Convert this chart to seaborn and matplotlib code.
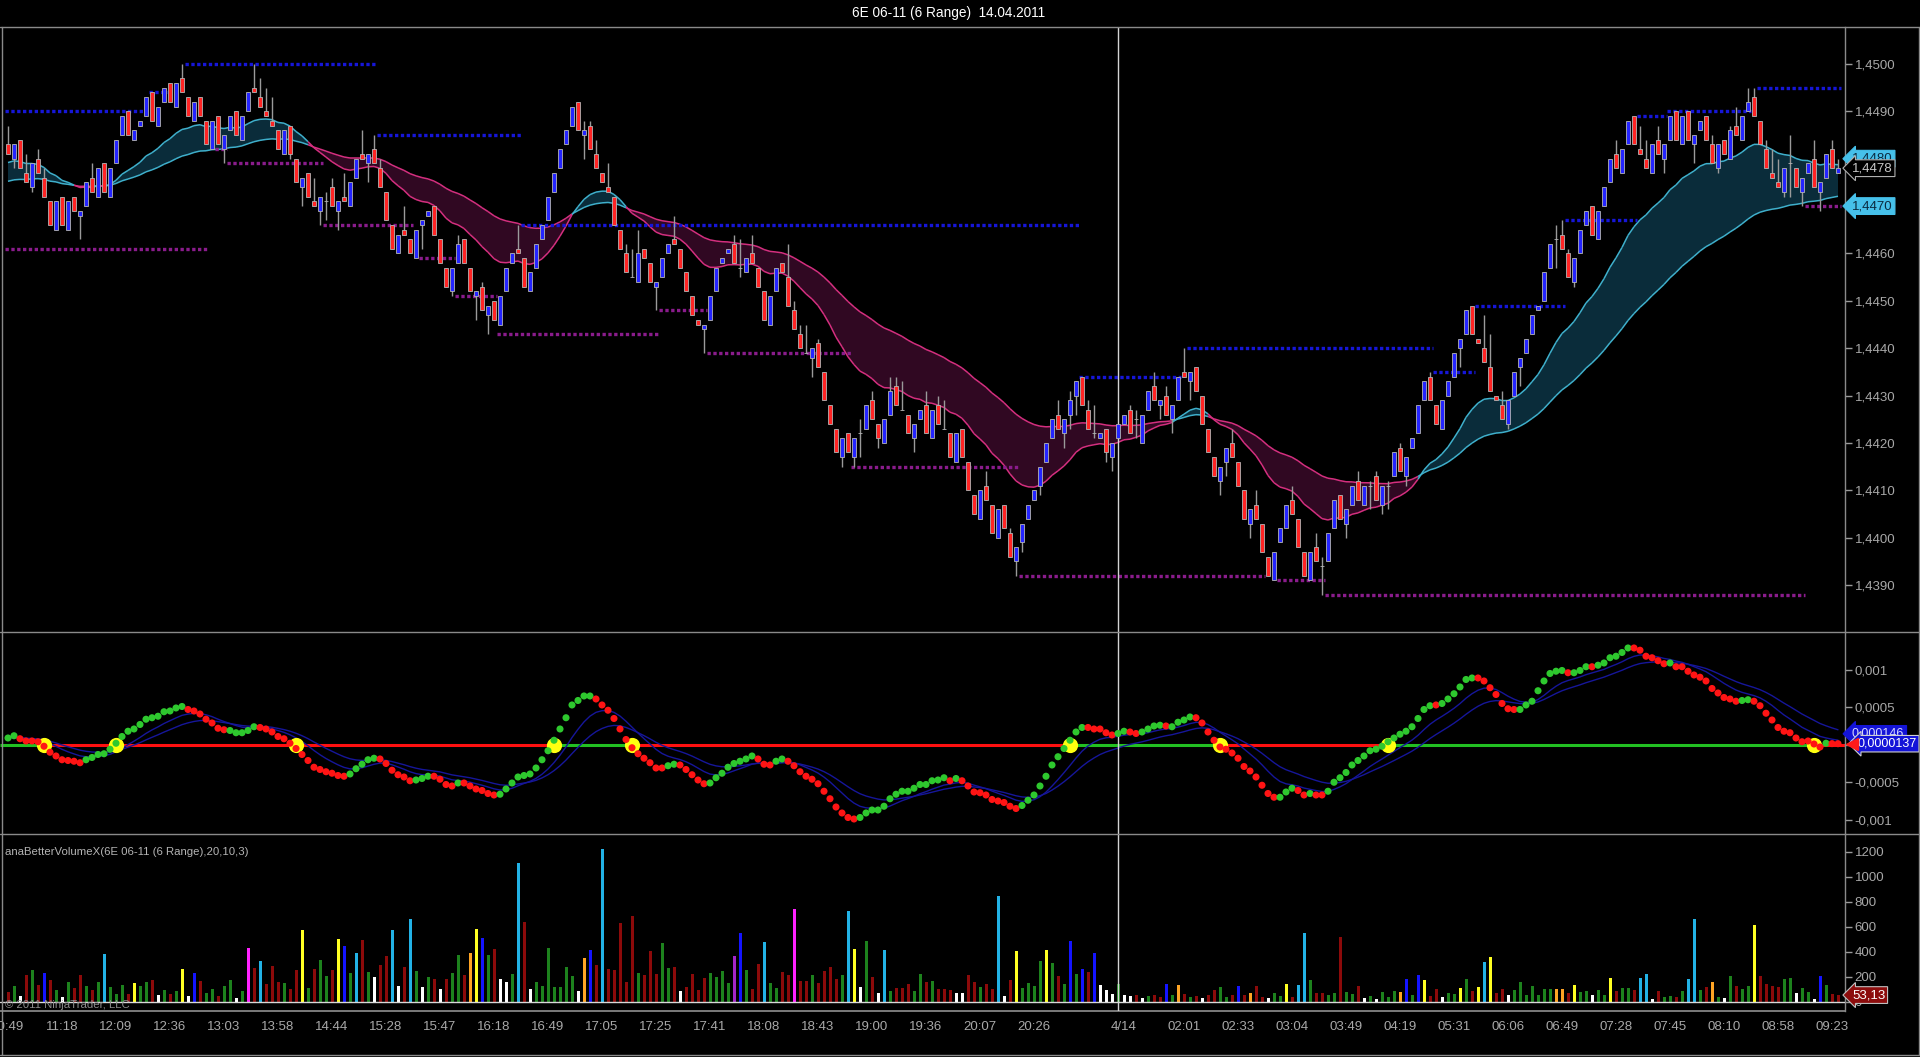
import numpy as np
import pandas as pd
import matplotlib
matplotlib.use("Agg")
import matplotlib.pyplot as plt
import seaborn as sns
from matplotlib.collections import LineCollection
from matplotlib.lines import Line2D

# ---------------- DATA (prices in pips above 1.4400) ----------------
TITLE = "6E 06-11 (6 Range)  14.04.2011"
BASE = 1.4400
PIP = 0.0001

OPEN = [83,80,84,77,74,80,76,71,65,72, 65,72,68,70,76,72,79,72,79,85,
        90,84,87,89,94,87,92,96,91,97, 93,88,93,88,82,89,82,86,90,84,
        90,95,93,90,88,86,81,87,80,74, 77,71,69,71,74,69,72,70,76,81,
        79,82,78,73,66,60,65,63,59,66, 68,70,63,57,52,58,63,57,51,53,
        47,50,45,52,58,61,59,52,57,63, 67,73,78,83,87,92,85,87,81,77,
        74,72,65,60,55,54,61,58,53,55, 60,63,61,56,51,46,44,46,52,58,
        60,62,57,56,60,57,52,45,52,58, 55,48,43,39,38,41,35,28,23,17,
        22,17,22,23,29,24,20,26,32,27, 26,21,25,28,21,28,23,22,16,23,
        16,9,4,11,7,0,7,1,-5,-1, 4,8,11,16,21,26,22,26,30,34,
        27,22,21,23,17,21,24,27,25,20, 27,32,28,30,25,29,35,33,36,30,
        23,17,12,16,20,16,10,3,7,3, -4,-9,-1,2,8,4,-3,-9,-2,-6,
        -5,2,9,3,7,12,7,11,13,7, 11,13,19,13,19,22,29,34,28,23,
        30,34,40,43,49,42,40,36,30,28, 24,30,36,39,43,48,50,57,63,64,
        60,54,60,66,70,63,70,75,81,77, 83,89,82,80,77,84,80,84,90,83,
        90,83,86,89,83,78,84,80,87,84, 90,93,88,82,77,75,73,79,78,73,
        77,80,73,76,82,77]
CLOSE = [81,83,78,75,79,77,72,66,71,66, 71,69,69,75,73,78,73,78,84,89,
         85,86,88,93,88,91,95,92,96,94, 89,92,89,83,88,83,85,89,85,89,
         94,94,91,89,87,82,86,81,75,76, 72,70,72,71,70,71,71,75,80,80,
         81,79,74,67,61,64,64,60,65,67, 69,64,58,53,57,62,58,52,52,48,
         49,46,51,57,60,60,53,56,62,66, 72,77,82,86,91,86,86,82,78,75,
         73,66,61,56,55,60,59,54,54,59, 62,62,57,52,47,45,45,51,57,59,
         61,58,57,59,58,53,46,51,57,56, 49,44,40,39,40,36,29,24,18,21,
         18,21,22,28,25,21,25,31,28,27, 22,24,27,22,27,24,23,17,22,17,
         10,5,10,8,1,6,2,-4,-2,3, 7,10,15,20,25,23,25,29,33,28,
         23,22,22,18,20,24,26,22,25,26, 31,29,29,26,28,34,34,35,31,24,
         18,13,15,19,17,11,4,6,4,-3, -8,-3,2,7,5,-2,-8,-3,-5,-6,
         1,8,4,6,11,8,11,11,8,11, 11,18,14,17,21,28,33,29,24,29,
         33,39,42,48,43,41,37,31,29,25, 29,35,38,42,47,49,56,62,63,61,
         55,59,65,69,64,69,74,80,78,82, 88,83,81,78,83,81,83,89,84,89,
         84,85,88,84,79,83,81,86,85,89, 92,89,83,78,76,74,78,79,74,76,
         79,74,75,81,78,78]
WICK_HIGH = {0:87, 3:81, 5:82, 6:78, 14:79, 29:100, 41:100, 42:97, 43:95, 44:93,
             51:76, 53:73, 54:76, 56:77, 59:86, 61:85, 62:80, 66:70, 75:64, 79:54,
             85:66, 95:92, 96:88, 97:88, 98:84, 100:79, 103:62, 104:61, 105:65, 111:68,
             121:64, 122:63, 124:64, 130:62, 131:50, 132:45, 133:45, 135:42, 142:25,
             144:31, 147:34, 148:34, 149:33, 153:31, 155:30, 156:29, 163:14, 167:2,
             175:29, 177:31, 180:29, 181:28, 187:28, 188:27, 191:35, 193:32, 196:40,
             204:23, 208:10, 214:11, 218:1, 219:-4, 225:14, 227:12, 228:14, 230:12,
             232:20, 237:35, 246:47, 247:43, 249:31, 258:66, 259:67, 260:61, 268:84,
             272:87, 273:84, 275:87, 284:85, 287:87, 288:91, 290:95, 291:95, 293:84,
             294:82, 295:80, 297:85, 301:84, 304:84, 305:80}
WICK_LOW = {1:78, 4:73, 12:63, 36:79, 47:80, 49:70, 52:66, 53:67, 55:65, 60:75,
            69:61, 74:51, 78:46, 80:43, 96:80, 104:55, 108:48, 116:39, 122:55,
            133:39, 134:34, 139:15, 141:15, 142:17, 145:19, 149:27, 151:18, 156:23,
            168:-8, 169:-3, 170:4, 172:9, 176:19, 177:23, 178:26, 181:21, 183:16,
            184:14, 188:21, 192:25, 194:22, 197:29, 202:9, 203:13, 207:0, 219:-12,
            223:0, 227:6, 229:5, 230:6, 233:11, 242:36, 250:23, 252:32, 258:57,
            261:53, 276:77, 281:79, 285:77, 296:72, 297:72, 299:70, 302:69}

# cloud start values read at the first bar (pips)
FAST_SEED, SLOW_SEED = 79, 75
FAST_SPAN, SLOW_SPAN = 20, 50

# resistance (blue) / support (purple) dotted levels: (pips, first bar, last bar)
RES_LEVELS = [(90,0,22),(94,24,26),(100,30,61),(85,62,85),(66,86,178),(34,179,195),
              (40,197,237),(35,238,244),(49,245,259),(67,260,271),(89,272,276),
              (90,277,290),(95,292,305)]
SUP_LEVELS = [(61,0,33),(82,35,36),(79,37,52),(66,53,67),(59,69,74),(51,75,81),
              (43,82,108),(48,109,116),(39,117,140),(15,141,168),(-8,169,209),
              (-9,212,219),(-12,220,299),(70,300,305)]

# oscillator values (units of 0.0001)
OSC = [0.9,1.2,0.8,0.5,0.5,0.4,-0.2,-1.0,-1.5,-2.0, -2.1,-2.2,-2.4,-2.0,-1.7,-1.3,-1.2,-0.6,0.2,1.1,
       1.8,2.1,2.7,3.4,3.6,3.8,4.4,4.5,4.9,5.1, 4.7,4.5,4.1,3.4,2.9,2.2,2.0,1.9,1.6,1.6,
       1.9,2.4,2.3,2.1,1.7,1.1,0.8,0.2,-0.5,-1.3, -2.1,-3.0,-3.3,-3.6,-3.8,-4.1,-4.2,-3.9,-3.2,-2.6,
       -2.0,-1.8,-1.9,-2.5,-3.4,-4.0,-4.3,-4.8,-4.7,-4.5, -4.2,-4.2,-4.6,-5.3,-5.5,-5.1,-5.1,-5.5,-5.9,-6.1,
       -6.5,-6.7,-6.6,-5.9,-5.1,-4.3,-4.1,-3.9,-3.1,-2.0, -0.8,0.6,2.1,3.6,5.3,5.9,6.5,6.5,6.1,5.3,
       4.6,3.5,2.1,0.7,-0.4,-1.2,-1.8,-2.4,-3.1,-3.1, -2.8,-2.6,-2.7,-3.3,-4.0,-4.7,-5.2,-5.1,-4.4,-3.8,
       -3.0,-2.5,-2.2,-1.9,-1.5,-1.9,-2.6,-2.7,-2.2,-1.9, -2.2,-2.8,-3.6,-4.2,-4.6,-5.2,-6.2,-7.2,-8.3,-9.1,
       -9.7,-9.9,-9.7,-9.1,-8.7,-8.7,-8.2,-7.2,-6.6,-6.2, -6.2,-5.8,-5.3,-5.3,-4.8,-4.7,-4.4,-4.8,-4.5,-4.8,
       -5.5,-6.3,-6.4,-6.7,-7.3,-7.5,-7.7,-8.2,-8.5,-8.1, -7.4,-6.7,-5.5,-4.2,-2.7,-1.6,-0.5,0.6,1.7,2.3,
       2.3,2.1,2.1,1.6,1.3,1.5,1.8,1.7,1.5,1.7, 2.1,2.5,2.6,2.5,2.4,3.0,3.3,3.7,3.6,2.9,
       1.7,0.6,-0.3,-0.6,-1.1,-1.8,-2.9,-3.5,-4.3,-5.4, -6.5,-7.0,-7.0,-6.3,-5.8,-6.1,-6.7,-6.5,-6.7,-6.7,
       -6.2,-5.0,-4.4,-3.7,-2.7,-2.1,-1.5,-0.8,-0.6,-0.2, 0.4,0.9,1.4,1.8,2.4,3.5,4.7,5.2,5.3,5.5,
       6.1,6.8,7.7,8.7,8.9,8.9,8.5,7.6,6.7,5.5, 4.8,4.7,4.7,5.3,5.8,7.2,8.5,9.5,9.8,9.9,
       9.6,9.6,9.9,10.4,10.4,10.6,10.9,11.6,11.8,12.3, 12.9,12.9,12.6,11.8,11.6,11.2,10.8,10.9,10.4,10.4,
       9.8,9.3,9.0,8.5,7.5,6.9,6.3,6.1,5.8,5.9, 6.0,5.8,5.2,4.2,3.3,2.3,1.8,1.6,0.9,0.4,
       0.5,0.1,-0.3,0.2,0.15,0.14]
OSC_COLOR_RUNS = [('g',2),('r',11),('g',17),('r',7),('g',5),('r',15),('g',5),('r',6),('g',3),
                  ('r',4),('g',1),('r',6),('g',16),('r',12),('g',2),('r',5),('g',8),('r',3),
                  ('g',2),('r',12),('g',15),('r',1),('g',1),('r',10),('g',11),('r',5),('g',2),
                  ('r',2),('g',4),('r',1),('g',4),('r',14),('g',3),('r',2),('g',1),('r',2),
                  ('g',18),('r',1),('g',6),('r',7),('g',8),('r',1),('g',3),('r',1),('g',6),
                  ('r',6),('g',1),('r',11),('g',2),('r',12),('g',1),('r',2)]
CROSS_BARS = [6, 18, 48, 91, 104, 177, 202, 230, 301]
ZERO_FLIPS = [6, 91, 104, 177, 202, 230, 301]   # zero line starts green and alternates
SIGNAL_SPANS = (8, 16)

# volume
VOL = [77,125,45,216,251,136,232,176,91,37, 157,109,216,125,91,157,381,117,64,136,
       64,149,125,157,171,53,91,64,83,259, 43,229,165,72,99,45,125,171,29,83,
       429,269,323,144,285,157,152,99,251,571, 109,259,331,205,251,499,445,232,389,491,
       237,197,296,365,571,125,277,659,243,117, 197,184,99,184,232,371,216,389,579,509,
       376,419,179,157,224,1109,637,99,157,125, 429,117,117,277,205,83,349,411,291,1219,
       259,251,632,157,685,229,211,405,219,469, 269,277,85,117,224,91,189,229,197,243,
       152,365,549,251,99,301,477,149,109,237, 216,744,165,165,211,152,243,277,184,211,
       725,419,117,483,197,69,411,85,109,109, 139,85,219,157,163,99,99,91,69,69,
       211,157,117,144,99,843,45,171,403,109, 149,125,323,411,309,205,139,483,224,264,
       237,389,136,96,64,144,56,45,56,32, 45,56,37,139,56,136,64,37,43,32,
       51,91,117,37,51,123,51,72,125,37, 29,72,45,144,37,136,549,171,72,72,
       51,72,517,77,64,125,29,45,24,77, 37,85,77,179,56,211,171,45,104,37,
       72,64,109,179,85,117,317,357,72,99, 51,91,157,56,125,56,99,99,99,99,
       72,131,77,83,51,91,51,189,85,109, 109,91,189,219,19,83,37,43,37,85,
       179,659,91,117,157,37,29,205,125,99, 125,611,205,144,125,117,179,189,69,109,
       77,19,205,131,64,53]
VOL_CAT = ("RGWRGRBRGW" "GRRGRGCGGG" "RYGGRWGRGY" "WBRGGRGGWG" "MRCRRRGRRY"
           "GRGGRYBGCR" "GWRRCWRCGW" "GRWRGGROYB" "GRWWGCRWGG" "GGGGGWOBRC"
           "RRRRRGRRRG" "GRWRRRRGGG" "GPBGRRCGGR" "RMRRGRRRRG" "CYWGRWCGRR"
           "RGGRGRRRWW" "RRGRRCWRYG" "GGGYGRGBGB" "RBWWWGWWRW" "GRRBGORGRW"
           "RRGGRBRORR" "WGGYRCCGRR" "GGRGGRWGWG" "GGOBGBYRRW" "GGYGRYCYRR"
           "WGGGGGGGOO" "RYGGWGGYRG" "GRCCWRGGRG" "CCGROGWGRG" "GYRRRRGGWG"
           "GWBGRR")

TICK_BARS = [0,9,18,27,36,45,54,63,72,81,90,99,108,117,126,135,144,153,162,171,180,
             186,196,205,214,223,232,241,250,259,268,277,286,295,304]
TICK_LABELS = ["10:49","11:18","12:09","12:36","13:03","13:58","14:44","15:28","15:47",
               "16:18","16:49","17:05","17:25","17:41","18:08","18:43","19:00","19:36",
               "20:07","20:26","","4/14","02:01","02:33","03:04","03:49","04:19","05:31",
               "06:06","06:49","07:28","07:45","08:10","08:58","09:23"]
DATE_BREAK_BAR = 185

PRICE_TICKS = [1.4390,1.4400,1.4410,1.4420,1.4430,1.4440,1.4450,1.4460,1.4470,1.4480,1.4490,1.4500]
OSC_TICKS = [-0.001,-0.0005,0.0,0.0005,0.001]
OSC_TICK_LABELS = ["-0,001","-0,0005","0","0,0005","0,001"]
VOL_TICKS = [0,200,400,600,800,1000,1200]

LAST_PRICE, LAST_PRICE_TXT = 1.4478, "1,4478"
SLOW_LAST, SLOW_LAST_TXT = 1.4470, "1,4470"
FAST_LAST, FAST_LAST_TXT = 1.4480, "1,4480"
SIG_LAST, SIG_LAST_TXT = 0.000146, "0,000146"
OSC_LAST, OSC_LAST_TXT = 0.0000137, "0,0000137"
VOL_LAST, VOL_LAST_TXT = 53.13, "53,13"
VOL_TITLE = "anaBetterVolumeX(6E 06-11 (6 Range),20,10,3)"
COPYRIGHT = "\u00a9 2011 NinjaTrader, LLC"

# ---------------- STYLE ----------------
sns.set_theme(style="dark")
plt.rcParams['font.family'] = ['Liberation Sans', 'DejaVu Sans']
plt.rcParams.update({'figure.facecolor': 'black', 'axes.facecolor': 'black',
                     'savefig.facecolor': 'black', 'axes.grid': False})

GREY = '#9a9a9a'
LBL = '#a8a8a8'
TEAL_LINE, TEAL_FILL = '#3fb0cc', '#0a2c3a'
PINK_LINE, PINK_FILL = '#d42f7f', '#300822'
VOL_COLORS = {'G': '#1d821d', 'R': '#8c0a0a', 'C': '#22b2e6', 'Y': '#ffff22', 'W': '#ffffff',
              'B': '#1414ff', 'M': '#ff22ff', 'O': '#ffa424', 'P': '#a526c8'}

W, H = 1920, 1057
fig = plt.figure(figsize=(W / 100, H / 100), dpi=100)
AX_RIGHT = 1845


def rect(top, bottom):
    return [0, 1 - bottom / H, AX_RIGHT / W, (bottom - top) / H]


ax_p = fig.add_axes(rect(27, 632))
ax_o = fig.add_axes(rect(632, 834))
ax_v = fig.add_axes(rect(834, 1011))

n = len(CLOSE)
x = np.arange(n)
XL = (-8 / 6, (AX_RIGHT - 8) / 6)

# ---------------- PRICE PANEL ----------------
o = BASE + np.array(OPEN, float) * PIP
c = BASE + np.array(CLOSE, float) * PIP
hi = np.maximum(o, c)
lo = np.minimum(o, c)
for k, v in WICK_HIGH.items():
    hi[k] = max(hi[k], BASE + v * PIP)
for k, v in WICK_LOW.items():
    lo[k] = min(lo[k], BASE + v * PIP)


def ema(vals, span, seed):
    a = 2.0 / (span + 1)
    e = seed
    out = []
    for v in vals:
        e = e + a * (v - e)
        out.append(e)
    return np.array(out)


fast = BASE + ema(CLOSE, FAST_SPAN, FAST_SEED) * PIP
slow = BASE + ema(CLOSE, SLOW_SPAN, SLOW_SEED) * PIP
bull = fast >= slow
ax_p.fill_between(x, fast, slow, where=bull, interpolate=True, color=TEAL_FILL, lw=0, zorder=1)
ax_p.fill_between(x, fast, slow, where=~bull, interpolate=True, color=PINK_FILL, lw=0, zorder=1)
seg_cols = [TEAL_LINE if (bull[i] and bull[i + 1]) or (bull[i] != bull[i + 1] and fast[i + 1] >= slow[i + 1]) else PINK_LINE
            for i in range(n - 1)]
for line in (fast, slow):
    pts = np.column_stack([x, line])
    segs = np.stack([pts[:-1], pts[1:]], axis=1)
    ax_p.add_collection(LineCollection(segs, colors=seg_cols, linewidths=1.1, zorder=2))

for lvl, s, e in RES_LEVELS:
    ax_p.hlines(BASE + lvl * PIP, s - 0.5, e + 0.5, colors='#1616d8', linewidth=2.4,
                linestyles=(0, (1, 0.75)), zorder=3)
for lvl, s, e in SUP_LEVELS:
    ax_p.hlines(BASE + lvl * PIP, s - 0.5, e + 0.5, colors='#8a1c8c', linewidth=2.4,
                linestyles=(0, (1, 0.75)), zorder=3)

ax_p.vlines(x, lo, hi, color=GREY, linewidth=1, zorder=4)
body_cols = np.where(c > o, '#2424ff', np.where(c < o, '#ff2424', '#9a9a9a'))
ax_p.bar(x, np.abs(c - o), bottom=np.minimum(o, c), width=0.66, color=body_cols,
         edgecolor='#b4b4b4', linewidth=0.6, zorder=5)
ax_p.set_ylim(BASE - 19.9 * PIP, BASE + 107.8 * PIP)
ax_p.set_yticks(PRICE_TICKS)
ax_p.set_yticklabels([f"{t:.4f}".replace('.', ',') for t in PRICE_TICKS])

# ---------------- OSCILLATOR PANEL ----------------
osc = np.array(OSC) * 1e-4
dcol = "".join(ch * cnt for ch, cnt in OSC_COLOR_RUNS)
df_o = pd.DataFrame({'bar': x, 'osc': osc, 'dir': list(dcol)})
flips = [XL[0]] + ZERO_FLIPS + [XL[1]]
for i in range(len(flips) - 1):
    ax_o.hlines(0, flips[i], flips[i + 1], colors='#22c022' if i % 2 == 0 else '#ff1010',
                linewidth=2.2, zorder=2)
sig1 = pd.Series(osc).ewm(span=SIGNAL_SPANS[0], adjust=False).mean()
sig2 = pd.Series(osc).ewm(span=SIGNAL_SPANS[1], adjust=False).mean()
sns.lineplot(x=x, y=sig1.values, color='#16169a', linewidth=1.0, ax=ax_o, zorder=3)
sns.lineplot(x=x, y=sig2.values, color='#16169a', linewidth=1.0, ax=ax_o, zorder=3)
ax_o.scatter(CROSS_BARS, np.zeros(len(CROSS_BARS)), s=120, color='#ffff10', lw=0, zorder=4)
sns.scatterplot(data=df_o, x='bar', y='osc', hue='dir', palette={'g': '#2ec82e', 'r': '#ff1414'},
                s=26, linewidth=0, legend=False, ax=ax_o, zorder=5)
ax_o.set_ylim(-0.00119, 0.001503)
ax_o.set_yticks(OSC_TICKS)
ax_o.set_yticklabels(OSC_TICK_LABELS)

# ---------------- VOLUME PANEL ----------------
df_v = pd.DataFrame({'bar': x, 'vol': VOL, 'cat': list(VOL_CAT)})
sns.barplot(data=df_v, x='bar', y='vol', hue='cat', palette=VOL_COLORS, native_scale=True,
            width=0.5, dodge=False, legend=False, errorbar=None, saturation=1,
            linewidth=0, ax=ax_v)
ax_v.axhline(0, color='#d8d8d8', lw=1, zorder=3)
ax_v.set_ylim(-74.4, 1341.6)
ax_v.set_yticks(VOL_TICKS)
ax_v.set_yticklabels([str(t) for t in VOL_TICKS])
ax_v.set_xticks(TICK_BARS)
ax_v.set_xticklabels(TICK_LABELS)
ax_v.tick_params(axis='x', colors=LBL, labelsize=9.5, length=5, width=1, direction='out', pad=2)
for lab in ax_v.get_xticklabels():
    lab.set_color(LBL)

# ---------------- COMMON AXIS STYLE ----------------
for ax in (ax_p, ax_o, ax_v):
    ax.set_xlim(*XL)
    ax.set_xlabel('')
    ax.set_ylabel('')
    ax.set_facecolor('black')
    ax.yaxis.tick_right()
    ax.tick_params(axis='y', colors=GREY, labelcolor=LBL, labelsize=9.5, length=5,
                   width=1, direction='out', pad=2)
    for side in ('top', 'left', 'bottom'):
        ax.spines[side].set_visible(False)
    ax.spines['right'].set_color('#8a8a8a')
    ax.spines['right'].set_linewidth(1)
    ax.axvline(DATE_BREAK_BAR, color='#d4d4d4', lw=1, zorder=3)
    ax.grid(False)
for ax in (ax_p, ax_o):
    ax.set_xticks([])
ax_v.spines['bottom'].set_visible(True)
ax_v.spines['bottom'].set_color('#8a8a8a')
ax_v.tick_params(axis='x', color=GREY)

# ---------------- FRAME LINES ----------------
for yy in (27, 632, 834, 1055):
    fig.add_artist(Line2D([0, 1], [1 - yy / H] * 2, color='#8a8a8a', lw=1, transform=fig.transFigure))
fig.add_artist(Line2D([1.5 / W] * 2, [1 - 27 / H, 1 - 1055 / H], color='#8a8a8a', lw=1, transform=fig.transFigure))
fig.add_artist(Line2D([1 - 1.5 / W] * 2, [1 - 27 / H, 1 - 1055 / H], color='#8a8a8a', lw=1, transform=fig.transFigure))

# ---------------- TEXTS ----------------
fig.text(949 / W, 1 - 13 / H, TITLE, color='white', fontsize=9.8, ha='center', va='center')
fig.text(5 / W, 1 - 852 / H, VOL_TITLE, color='#b4b4b4', fontsize=8.2, ha='left', va='center')
fig.text(5 / W, 1 - 1005 / H, COPYRIGHT, color='#8c8c8c', fontsize=8.2, ha='left', va='center')


def tag(ax, y, txt, fc, ec, tc, fs=9.5, dx=5):
    ax.annotate(txt, xy=(1.0, y), xycoords=('axes fraction', 'data'), xytext=(dx, 0),
                textcoords='offset points', ha='left', va='center', fontsize=fs, color=tc,
                bbox=dict(boxstyle='larrow,pad=0.18', fc=fc, ec=ec, lw=0.8),
                annotation_clip=False, zorder=20)


tag(ax_p, FAST_LAST, FAST_LAST_TXT, '#46c0ea', '#46c0ea', '#0b2a40')
tag(ax_p, LAST_PRICE, LAST_PRICE_TXT, 'black', '#b0b0b0', '#c8c8c8')
tag(ax_p, SLOW_LAST, SLOW_LAST_TXT, '#46c0ea', '#46c0ea', '#0b2a40')
tag(ax_o, SIG_LAST, SIG_LAST_TXT, '#1414d8', '#1414d8', '#d8d8ff', fs=9)
tag(ax_o, OSC_LAST, OSC_LAST_TXT, '#1414d8', '#d0d0d0', 'white', fs=9, dx=9)
ax_o.plot([XL[1] + 1.2], [OSC_LAST], marker='<', color='#ff1a1a', markersize=9,
          clip_on=False, zorder=21)
tag(ax_v, VOL_LAST, VOL_LAST_TXT, '#8c0c0c', '#c0c0c0', 'white')

fig.savefig('out.png', dpi=100, facecolor='black')
